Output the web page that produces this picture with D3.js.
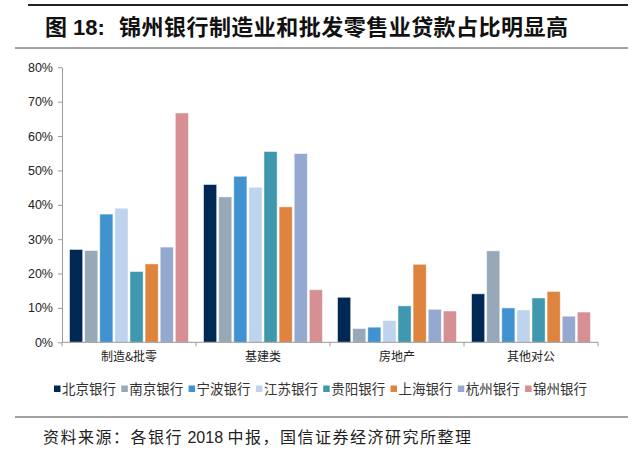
<!DOCTYPE html>
<html><head><meta charset="utf-8">
<script src="https://cdn.jsdelivr.net/npm/d3@7"></script>
<style>body{margin:0;background:#fff;} svg{display:block;}</style>
</head><body>
<svg id="c" width="635" height="454"></svg>
<script>
const categories = ["制造&批零", "基建类", "房地产", "其他对公"];
const banks = ["北京银行", "南京银行", "宁波银行", "江苏银行", "贵阳银行", "上海银行", "杭州银行", "锦州银行"];
const beijing  = [27.0, 45.9, 13.1, 14.1];
const nanjing  = [26.7, 42.3, 4.0, 26.6];
const ningbo   = [37.3, 48.3, 4.4, 10.0];
const jiangsu  = [39.0, 45.1, 6.3, 9.4];
const guiyang  = [20.6, 55.5, 10.6, 12.9];
const shanghai = [22.8, 39.4, 22.7, 14.8];
const hangzhou = [27.7, 54.9, 9.6, 7.6];
const jinzhou  = [66.7, 15.3, 9.1, 8.8];
const yTicks = [0, 10, 20, 30, 40, 50, 60, 70, 80];
const colors = ["#002855", "#97a8b8", "#4192d0", "#bdd3ee", "#3f98ae", "#de843f", "#95a9d0", "#d69093"];
const series = [beijing, nanjing, ningbo, jiangsu, guiyang, shanghai, hangzhou, jinzhou];

const svg = d3.select("#c");
const font = "'Liberation Sans', Arial, 'Noto Sans CJK SC', sans-serif";
const cjk = "'Noto Sans CJK SC', sans-serif";

// title block
svg.append("line").attr("x1", 28).attr("x2", 628).attr("y1", 5).attr("y2", 5).attr("stroke", "#222").attr("stroke-width", 2);
svg.append("text").attr("x", 45).attr("y", 35).attr("font-family", font).attr("font-weight", "bold").attr("font-size", 22).attr("fill", "#111")
  .text("图 18:");
svg.append("text").attr("x", 119).attr("y", 35).attr("font-family", cjk).attr("font-weight", "bold").attr("font-size", 22).attr("fill", "#111")
  .attr("textLength", 449).attr("lengthAdjust", "spacing")
  .text("锦州银行制造业和批发零售业贷款占比明显高");
svg.append("line").attr("x1", 15).attr("x2", 628).attr("y1", 48).attr("y2", 48).attr("stroke", "#444").attr("stroke-width", 1);

const x0 = 62, x1 = 598, yTop = 67.3, yBot = 342.3;
const x = d3.scaleBand().domain(categories).range([x0, x1]).paddingInner(0).paddingOuter(0);
const xi = d3.scaleBand().domain(d3.range(banks.length)).range([0, x.bandwidth()]).paddingInner(0.13).paddingOuter(0.5);
const y = d3.scaleLinear().domain([0, 80]).range([yBot, yTop]);

// y axis
const ya = svg.append("g").attr("transform", `translate(${x0},0)`)
  .call(d3.axisLeft(y).tickValues(yTicks).tickFormat(d => d + "%").tickSize(4).tickSizeOuter(0));
ya.select(".domain").attr("stroke", "#999");
ya.selectAll(".tick line").attr("stroke", "#999");
ya.selectAll(".tick text").attr("font-family", font).attr("font-size", 12.5).attr("fill", "#222").attr("dx", "-2");

// bars
const g = svg.append("g");
series.forEach((s, i) => {
  g.selectAll(null).data(s).enter().append("rect")
    .attr("x", (d, j) => x(categories[j]) + xi(i))
    .attr("y", d => y(d))
    .attr("width", xi.bandwidth())
    .attr("height", d => yBot - y(d))
    .attr("fill", colors[i])
    .attr("stroke", "#ffffff").attr("stroke-opacity", 0.6).attr("stroke-width", 0.8);
});

// x axis
const xa = svg.append("g").attr("transform", `translate(0,${yBot})`);
xa.append("line").attr("x1", x0).attr("x2", x1).attr("stroke", "#999");
[x0, ...categories.map(c => x(c) + x.bandwidth())].forEach(v => {
  xa.append("line").attr("x1", v).attr("x2", v).attr("y1", 0).attr("y2", 4).attr("stroke", "#999");
});
xa.selectAll("text.cat").data(categories).enter().append("text")
  .attr("x", d => x(d) + x.bandwidth() / 2).attr("y", 19)
  .attr("text-anchor", "middle").attr("font-family", cjk).attr("font-size", 12).attr("fill", "#222").text(d => d);

// legend
const lg = svg.append("g").attr("transform", "translate(54,389)");
let lx = 0;
banks.forEach((b, i) => {
  lg.append("rect").attr("x", lx).attr("y", -3.5).attr("width", 6.5).attr("height", 6.5).attr("fill", colors[i]);
  lg.append("text").attr("x", lx + 8).attr("y", 4.5).attr("font-family", cjk).attr("font-size", 13.5).attr("fill", "#333").text(b);
  lx += 67.3;
});

// footer
svg.append("line").attr("x1", 15).attr("x2", 628).attr("y1", 417).attr("y2", 417).attr("stroke", "#444").attr("stroke-width", 1);
const src = svg.append("text").attr("x", 43).attr("y", 443).attr("font-family", cjk).attr("font-size", 16).attr("fill", "#222");
src.append("tspan").attr("letter-spacing", 1.5).text("资料来源：各银行");
src.append("tspan").attr("font-family", font).text(" 2018 ");
src.append("tspan").attr("letter-spacing", 1.5).text("中报，国信证券经济研究所整理");
</script>
</body></html>
